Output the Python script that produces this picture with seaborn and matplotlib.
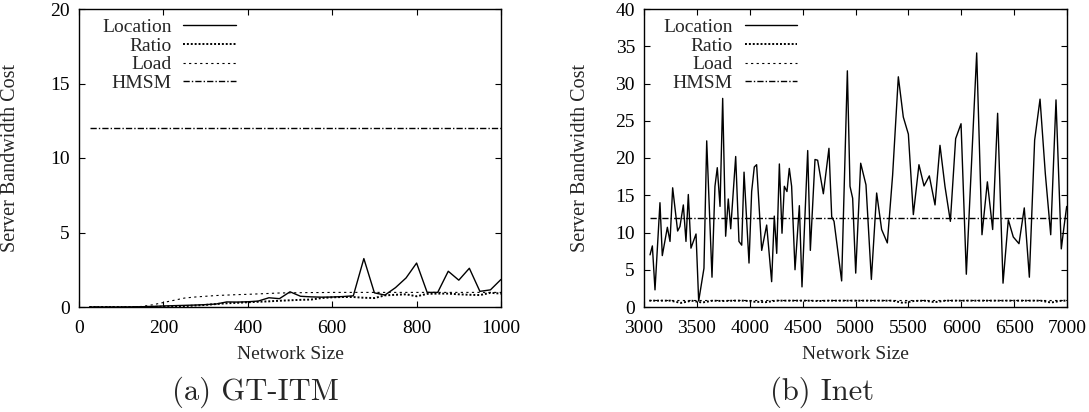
import matplotlib
matplotlib.use("Agg")
import matplotlib.pyplot as plt
import seaborn as sns

# ---------------- data: (a) GT-ITM ----------------
gt_x = [25, 50, 75, 100, 125, 150, 175, 200, 225, 250, 275, 300, 325, 350, 375, 400,
        425, 450, 475, 500, 525, 550, 575, 600, 625, 650, 675, 700, 725, 750, 775, 800,
        825, 850, 875, 900, 925, 950, 975, 1000]
gt_location = [0.0, 0.0, 0.0, 0.0, 0.01, 0.02, 0.04, 0.07, 0.09, 0.11, 0.13, 0.16, 0.2, 0.34,
               0.33, 0.35, 0.4, 0.62, 0.56, 1.02, 0.72, 0.68, 0.66, 0.67, 0.7, 0.75, 3.25, 0.95,
               0.8, 1.3, 1.95, 2.95, 0.98, 0.98, 2.4, 1.8, 2.6, 1.05, 1.15, 1.85]
gt_ratio = [0.0, 0.0, 0.0, 0.0, 0.0, 0.0, 0.01, 0.02, 0.03, 0.06, 0.1, 0.14, 0.2, 0.25, 0.28,
            0.32, 0.35, 0.38, 0.42, 0.45, 0.48, 0.5, 0.6, 0.65, 0.67, 0.67, 0.62, 0.6, 0.78,
            0.82, 0.85, 0.72, 0.88, 0.9, 0.9, 0.85, 0.82, 0.8, 0.95, 0.9]
gt_load = [0.0, 0.0, 0.0, 0.0, 0.0, 0.04, 0.15, 0.3, 0.45, 0.6, 0.67, 0.72, 0.77, 0.8, 0.83,
           0.85, 0.88, 0.91, 0.94, 0.95, 0.96, 0.97, 0.97, 0.98, 0.98, 0.98, 0.98, 0.98, 0.98,
           0.98, 0.98, 0.98, 0.98, 0.98, 0.98, 0.98, 0.98, 0.98, 0.98, 0.98]
gt_hmsm_x = [25, 1000]
gt_hmsm = [12.0, 12.0]

# ---------------- data: (b) Inet ----------------
inet_loc_x = [3057, 3079, 3104, 3151, 3173, 3221, 3246, 3271, 3318, 3340, 3372, 3397, 3419,
              3444, 3492, 3517, 3567, 3593, 3643, 3671, 3693, 3719, 3744, 3772, 3797, 3820,
              3867, 3898, 3924, 3946, 3993, 4018, 4043, 4065, 4113, 4160, 4207, 4232, 4255,
              4280, 4305, 4327, 4352, 4374, 4396, 4428, 4469, 4494, 4548, 4573, 4617, 4642,
              4696, 4749, 4775, 4797, 4869, 4923, 4948, 4973, 5002, 5049, 5099, 5150, 5200,
              5247, 5301, 5351, 5405, 5452, 5500, 5547, 5600, 5648, 5698, 5752, 5799, 5846,
              5897, 5947, 5998, 6048, 6146, 6196, 6247, 6297, 6344, 6395, 6445, 6492, 6546,
              6596, 6644, 6694, 6745, 6795, 6846, 6896, 6946, 6972, 6997]
inet_location = [7.0, 8.2, 2.3, 14.0, 6.9, 10.7, 8.8, 16.0, 10.2, 10.8, 13.7, 8.8, 15.1,
                 7.9, 9.8, 0.8, 5.2, 22.3, 4.0, 16.2, 18.7, 13.5, 28.0, 9.5, 14.5, 10.5,
                 20.2, 8.8, 8.3, 18.1, 5.9, 15.5, 18.8, 19.1, 7.6, 11.0, 3.4, 12.2, 7.2,
                 19.2, 9.9, 16.2, 15.5, 18.6, 16.2, 5.0, 13.6, 2.7, 21.0, 7.6, 19.8, 19.7,
                 15.2, 21.3, 12.1, 11.5, 3.5, 31.7, 16.2, 14.6, 4.55, 19.3, 16.4, 3.7, 15.3,
                 10.4, 8.6, 17.7, 30.9, 25.5, 23.2, 12.4, 19.1, 16.25, 17.6, 13.7, 21.7, 16.2,
                 11.5, 22.6, 24.6, 4.4, 34.1, 9.7, 16.8, 10.4, 26.0, 3.2, 11.7, 9.4, 8.5,
                 13.3, 4.0, 22.4, 27.9, 17.9, 9.7, 27.8, 7.8, 10.8, 13.5]
inet_ratio_x = [3050, 3150, 3250, 3350, 3450, 3550, 3650, 3750, 3850, 3950, 4050, 4150, 4250,
                4350, 4450, 4550, 4650, 4750, 4850, 4950, 5050, 5150, 5250, 5350, 5450, 5550,
                5650, 5750, 5850, 5950, 6050, 6150, 6250, 6350, 6450, 6550, 6650, 6750, 6850,
                6950, 7000]
inet_ratio = [0.85, 0.85, 0.85, 0.55, 0.85, 0.6, 0.85, 0.8, 0.85, 0.85, 0.7, 0.65, 0.85,
              0.85, 0.85, 0.85, 0.8, 0.85, 0.85, 0.85, 0.85, 0.85, 0.85, 0.85, 0.55, 0.8,
              0.85, 0.65, 0.85, 0.85, 0.85, 0.85, 0.85, 0.85, 0.85, 0.85, 0.85, 0.85, 0.6,
              0.85, 0.85]
inet_load_x = [3050, 4000, 5000, 6000, 7000]
inet_load = [0.98, 0.98, 0.98, 0.98, 0.98]
inet_hmsm_x = [3057, 7000]
inet_hmsm = [12.0, 12.0]

# tick labels
gt_xticks = [0, 200, 400, 600, 800, 1000]
gt_yticks = [0, 5, 10, 15, 20]
inet_xticks = [3000, 3500, 4000, 4500, 5000, 5500, 6000, 6500, 7000]
inet_yticks = [0, 5, 10, 15, 20, 25, 30, 35, 40]

# ---------------- style ----------------
sns.set_style("ticks")
plt.rcParams["font.family"] = ["Liberation Serif", "DejaVu Serif"]
plt.rcParams["axes.edgecolor"] = "black"
plt.rcParams["axes.linewidth"] = 1.0

W, H = 1089, 412
fig = plt.figure(figsize=(W / 100, H / 100), dpi=100)
ax1 = fig.add_axes([79 / W, 1 - 307 / H, 422 / W, 298 / H])
ax2 = fig.add_axes([644 / W, 1 - 307 / H, 423 / W, 298 / H])

styles = {
    "Location": dict(linestyle="-", linewidth=1.0),
    "Ratio": dict(linestyle=(0, (1, 1)), linewidth=1.4),
    "Load": dict(linestyle=(0, (2, 3)), linewidth=0.8),
    "HMSM": dict(linestyle=(0, (4.5, 1.5, 1, 1.5)), linewidth=1.0),
}


def draw(ax, series):
    for name, xs, ys in series:
        sns.lineplot(x=xs, y=ys, ax=ax, color="black", label=name, sort=False,
                     estimator=None, **styles[name])


draw(ax1, [("Location", gt_x, gt_location), ("Ratio", gt_x, gt_ratio),
           ("Load", gt_x, gt_load), ("HMSM", gt_hmsm_x, gt_hmsm)])
draw(ax2, [("Location", inet_loc_x, inet_location), ("Ratio", inet_ratio_x, inet_ratio),
           ("Load", inet_load_x, inet_load), ("HMSM", inet_hmsm_x, inet_hmsm)])

for ax, xt, yt, xlim, ylim, leg_x, ylab_x in [
        (ax1, gt_xticks, gt_yticks, (0, 1000), (0, 20), 0.372, -0.14),
        (ax2, inet_xticks, inet_yticks, (3000, 7000), (0, 40), 0.362, -0.128)]:
    ax.set_xlim(*xlim)
    ax.set_ylim(*ylim)
    ax.set_xticks(xt)
    ax.set_yticks(yt)
    ax.set_xticklabels([str(v) for v in xt])
    ax.set_yticklabels([str(v) for v in yt])
    ax.tick_params(direction="in", length=4.3, width=0.8, top=True, right=True,
                   labelsize=14, colors="black")
    ax.tick_params(axis="x", pad=9.5)
    ax.tick_params(axis="y", pad=6.5)
    for sp in ax.spines.values():
        sp.set_visible(True)
        sp.set_color("black")
    ax.set_xlabel("Network Size", fontsize=14)
    ax.set_ylabel("Server Bandwidth Cost", fontsize=14.5)
    ax.xaxis.set_label_coords(0.5, -0.131)
    ax.yaxis.set_label_coords(ylab_x, 0.5)
    leg = ax.legend(loc="upper right", bbox_to_anchor=(leg_x, 0.968), frameon=False,
                    markerfirst=False, fontsize=14, labelspacing=0.05, handlelength=2.7,
                    handletextpad=0.6, borderpad=0.0, borderaxespad=0.0)

fig.text(255 / W, 1 - 392 / H, "(a) GT-ITM", fontfamily="cmr10", fontsize=22,
         ha="center", va="center")
fig.text(822 / W, 1 - 392 / H, "(b) Inet", fontfamily="cmr10", fontsize=22,
         ha="center", va="center")

fig.savefig("out.png", dpi=100)
